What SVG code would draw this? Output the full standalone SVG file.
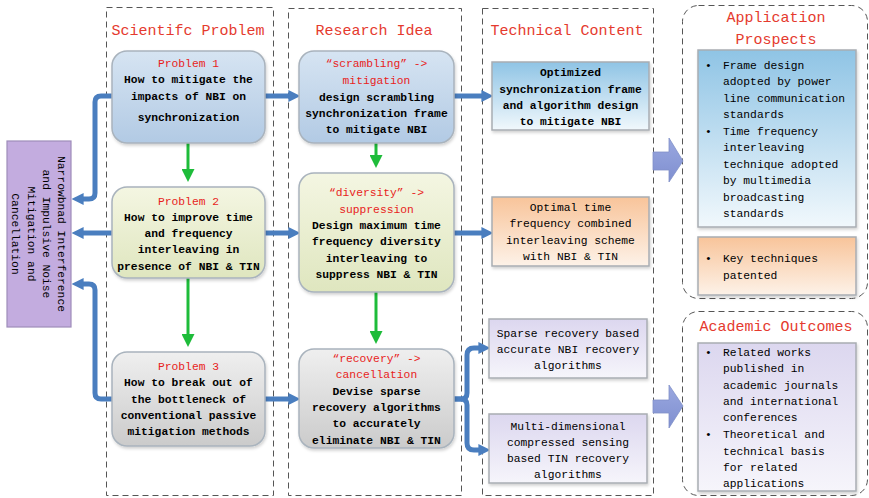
<svg xmlns="http://www.w3.org/2000/svg" width="869" height="498" viewBox="0 0 869 498">
<defs>
<style>
.t{font-family:"Liberation Mono","DejaVu Sans Mono",monospace;font-size:11.3px;fill:#000;text-anchor:middle}
.b{font-weight:bold}
.r{fill:#e8231c}
.l{text-anchor:start}
.title{font-family:"Liberation Mono","DejaVu Sans Mono",monospace;font-size:15px;fill:#e53a2e;text-anchor:middle}
.dash{fill:none;stroke:#555;stroke-width:1;stroke-dasharray:6,4}
.node{stroke:#a9b3bd;stroke-width:1.5}
.rect{stroke:#a8adb3;stroke-width:1.5}
.blue{fill:none;stroke:#4a7ebf;stroke-width:5;marker-end:url(#ab)}
.green{fill:none;stroke:#1ebc3a;stroke-width:3;marker-end:url(#ag)}
.blk{fill:url(#gBlk);stroke:#8090c8;stroke-width:0.8}
</style>
<marker id="ab" viewBox="0 0 10 10" markerUnits="userSpaceOnUse" markerWidth="12" markerHeight="13" refX="3" refY="5" orient="auto"><path d="M0,0 L10,5 L0,10 z" fill="#4a7ebf"/></marker>
<marker id="ag" viewBox="0 0 10 10" markerUnits="userSpaceOnUse" markerWidth="16" markerHeight="13" refX="3" refY="5" orient="auto"><path d="M0,0 L10,5 L0,10 z" fill="#1ebc3a"/></marker>
<linearGradient id="gBlue" x1="0" y1="0" x2="0" y2="1"><stop offset="0" stop-color="#d6e4f2"/><stop offset="1" stop-color="#b2cae4"/></linearGradient>
<linearGradient id="gYel" x1="0" y1="0" x2="0" y2="1"><stop offset="0" stop-color="#f4f6e2"/><stop offset="1" stop-color="#dfe6bf"/></linearGradient>
<linearGradient id="gGry" x1="0" y1="0" x2="0" y2="1"><stop offset="0" stop-color="#efefef"/><stop offset="1" stop-color="#cbcbcb"/></linearGradient>
<linearGradient id="gTB" x1="0" y1="0" x2="0" y2="1"><stop offset="0" stop-color="#8fc4e5"/><stop offset="1" stop-color="#f1f8fc"/></linearGradient>
<linearGradient id="gTO" x1="0" y1="0" x2="0" y2="1"><stop offset="0" stop-color="#f8c49a"/><stop offset="1" stop-color="#fdf2e8"/></linearGradient>
<linearGradient id="gTL" x1="0" y1="0" x2="0" y2="1"><stop offset="0" stop-color="#dcd7ef"/><stop offset="1" stop-color="#f6f5fb"/></linearGradient>
<linearGradient id="gBlk" x1="0" y1="0" x2="0" y2="1"><stop offset="0" stop-color="#9aa8e0"/><stop offset="1" stop-color="#7f8fd0"/></linearGradient>
<filter id="sh" x="-10%" y="-10%" width="120%" height="125%"><feDropShadow dx="1" dy="2" stdDeviation="1.5" flood-color="#000" flood-opacity="0.18"/></filter>
</defs>
<rect width="869" height="498" fill="#fff"/>

<g id="columns">
<rect class="dash" x="106.5" y="7.5" width="167" height="488"/>
<rect class="dash" x="288.5" y="8.5" width="173" height="487"/>
<rect class="dash" x="482.5" y="8.5" width="171" height="487"/>
<rect class="dash" x="682.5" y="5.5" width="185" height="293" rx="16"/>
<rect class="dash" x="682.5" y="311.5" width="185" height="184" rx="16"/>
<text class="title" x="188" y="35">Scientifc Problem</text>
<text class="title" x="374" y="35">Research Idea</text>
<text class="title" x="567" y="35">Technical Content</text>
<text class="title" x="776" y="22">Application</text>
<text class="title" x="776" y="44">Prospects</text>
<text class="title" x="776" y="331">Academic Outcomes</text>
</g>

<g id="connectors">
<path class="blue" d="M112,96 H101 Q95,96 95,102 V193 Q95,199 89,199 H80"/>
<path class="blue" d="M112,233 H80"/>
<path class="blue" d="M112,399 H101 Q95,399 95,393 V290 Q95,284 89,284 H80"/>
<path class="blue" d="M265,96 H292"/>
<path class="blue" d="M265,233 H292"/>
<path class="blue" d="M265,399 H292"/>
<path class="blue" d="M454,96 H485"/>
<path class="blue" d="M454,233 H485"/>
<path class="blue" d="M454,399 H461 Q467,399 467,393 V355 Q467,348 474,348 H482"/>
<path class="blue" d="M454,399 H461 Q467,399 467,405 V443 Q467,450 474,450 H482"/>
<path class="green" d="M188,143 V173"/>
<path class="green" d="M188,278 V338"/>
<path class="green" d="M376,143 V159"/>
<path class="green" d="M376,292 V335"/>
<path class="blk" d="M653,152 H669 V138 L683,161 L669,182 V170 H653 z"/>
<path class="blk" d="M653,400 H669 V385 L683,406 L669,428 V413 H653 z"/>
</g>

<g id="left-box">
<rect x="7" y="141" width="64" height="186" fill="#c3acdf" stroke="#9e8dba" stroke-width="1.2"/>
<g transform="translate(39,234) rotate(90)">
<text class="t" x="0" y="-19">Narrowbnad Interference</text>
<text class="t" x="0" y="-4">and Impulsive Noise</text>
<text class="t" x="0" y="11">Mitigation and</text>
<text class="t" x="0" y="27">Cancellation</text>
</g>
</g>

<g id="problem1">
<rect class="node" x="112" y="51" width="153" height="92" rx="15" fill="url(#gBlue)" filter="url(#sh)"/>
<text class="t r" x="188.5" y="67">Problem 1</text>
<text class="t b" x="188.5" y="83">How to mitigate the</text>
<text class="t b" x="188.5" y="100">impacts of NBI on</text>
<text class="t b" x="188.5" y="121">synchronization</text>
</g>
<g id="problem2">
<rect class="node" x="112" y="187" width="153" height="91" rx="15" fill="url(#gYel)" filter="url(#sh)"/>
<text class="t r" x="188.5" y="205">Problem 2</text>
<text class="t b" x="188.5" y="221">How to improve time</text>
<text class="t b" x="188.5" y="237">and frequency</text>
<text class="t b" x="188.5" y="253">interleaving in</text>
<text class="t b" x="188.5" y="270">presence of NBI &amp; TIN</text>
</g>
<g id="problem3">
<rect class="node" x="112" y="352" width="153" height="94" rx="15" fill="url(#gGry)" filter="url(#sh)"/>
<text class="t r" x="188.5" y="370">Problem 3</text>
<text class="t b" x="188.5" y="386">How to break out of</text>
<text class="t b" x="188.5" y="403">the bottleneck of</text>
<text class="t b" x="188.5" y="419">conventional passive</text>
<text class="t b" x="188.5" y="435">mitigation methods</text>
</g>

<g id="idea1">
<rect class="node" x="299" y="51" width="155" height="92" rx="15" fill="url(#gBlue)" filter="url(#sh)"/>
<text class="t r" x="376.5" y="67">“scrambling” -&gt;</text>
<text class="t r" x="376.5" y="84">mitigation</text>
<text class="t b" x="376.5" y="101">design scrambling</text>
<text class="t b" x="376.5" y="117">synchronization frame</text>
<text class="t b" x="376.5" y="133">to mitigate NBI</text>
</g>
<g id="idea2">
<rect class="node" x="299" y="173" width="155" height="119" rx="15" fill="url(#gYel)" filter="url(#sh)"/>
<text class="t r" x="376.5" y="196">“diversity” -&gt;</text>
<text class="t r" x="376.5" y="213">suppression</text>
<text class="t b" x="376.5" y="229">Design maximum time</text>
<text class="t b" x="376.5" y="245">frequency diversity</text>
<text class="t b" x="376.5" y="262">interleaving to</text>
<text class="t b" x="376.5" y="278">suppress NBI &amp; TIN</text>
</g>
<g id="idea3">
<rect class="node" x="299" y="349" width="155" height="99" rx="15" fill="url(#gGry)" filter="url(#sh)"/>
<text class="t r" x="376.5" y="362">“recovery” -&gt;</text>
<text class="t r" x="376.5" y="378">cancellation</text>
<text class="t b" x="376.5" y="395">Devise sparse</text>
<text class="t b" x="376.5" y="411">recovery algorithms</text>
<text class="t b" x="376.5" y="427">to accurately</text>
<text class="t b" x="376.5" y="444">eliminate NBI &amp; TIN</text>
</g>

<g id="tech1">
<rect class="rect" x="492" y="62" width="157" height="68" fill="url(#gTB)" filter="url(#sh)"/>
<text class="t b" x="570.5" y="76">Optimized</text>
<text class="t b" x="570.5" y="93">synchronization frame</text>
<text class="t b" x="570.5" y="109">and algorithm design</text>
<text class="t b" x="570.5" y="125">to mitigate NBI</text>
</g>
<g id="tech2">
<rect class="rect" x="492" y="197" width="157" height="69" fill="url(#gTO)" filter="url(#sh)"/>
<text class="t" x="570.5" y="211">Optimal time</text>
<text class="t" x="570.5" y="227">frequency combined</text>
<text class="t" x="570.5" y="244">interleaving scheme</text>
<text class="t" x="570.5" y="260">with NBI &amp; TIN</text>
</g>
<g id="tech3a">
<rect class="rect" x="489" y="319" width="158" height="59" fill="url(#gTL)" filter="url(#sh)"/>
<text class="t" x="568" y="337">Sparse recovery based</text>
<text class="t" x="568" y="353">accurate NBI recovery</text>
<text class="t" x="568" y="369">algorithms</text>
</g>
<g id="tech3b">
<rect class="rect" x="489" y="414" width="158" height="69" fill="url(#gTL)" filter="url(#sh)"/>
<text class="t" x="568" y="430">Multi-dimensional</text>
<text class="t" x="568" y="446">compressed sensing</text>
<text class="t" x="568" y="462">based TIN recovery</text>
<text class="t" x="568" y="478">algorithms</text>
</g>

<g id="app1">
<rect class="rect" x="698" y="50" width="158" height="177" fill="url(#gTB)" filter="url(#sh)"/>
<text class="t l" x="705" y="69">•</text>
<text class="t l" x="723" y="69">Frame design</text>
<text class="t l" x="723" y="85">adopted by power</text>
<text class="t l" x="723" y="102">line communication</text>
<text class="t l" x="723" y="118">standards</text>
<text class="t l" x="705" y="135">•</text>
<text class="t l" x="723" y="135">Time frequency</text>
<text class="t l" x="723" y="151">interleaving</text>
<text class="t l" x="723" y="168">technique adopted</text>
<text class="t l" x="723" y="184">by multimedia</text>
<text class="t l" x="723" y="201">broadcasting</text>
<text class="t l" x="723" y="217">standards</text>
</g>
<g id="app2">
<rect class="rect" x="698" y="237" width="158" height="58" fill="url(#gTO)" filter="url(#sh)"/>
<text class="t l" x="705" y="262">•</text>
<text class="t l" x="723" y="262">Key techniques</text>
<text class="t l" x="723" y="279">patented</text>
</g>
<g id="academic">
<rect class="rect" x="698" y="343" width="158" height="148" fill="url(#gTL)" filter="url(#sh)"/>
<text class="t l" x="705" y="356">•</text>
<text class="t l" x="723" y="356">Related works</text>
<text class="t l" x="723" y="372">published in</text>
<text class="t l" x="723" y="389">academic journals</text>
<text class="t l" x="723" y="405">and international</text>
<text class="t l" x="723" y="421">conferences</text>
<text class="t l" x="705" y="438">•</text>
<text class="t l" x="723" y="438">Theoretical and</text>
<text class="t l" x="723" y="455">technical basis</text>
<text class="t l" x="723" y="471">for related</text>
<text class="t l" x="723" y="487">applications</text>
</g>
</svg>
